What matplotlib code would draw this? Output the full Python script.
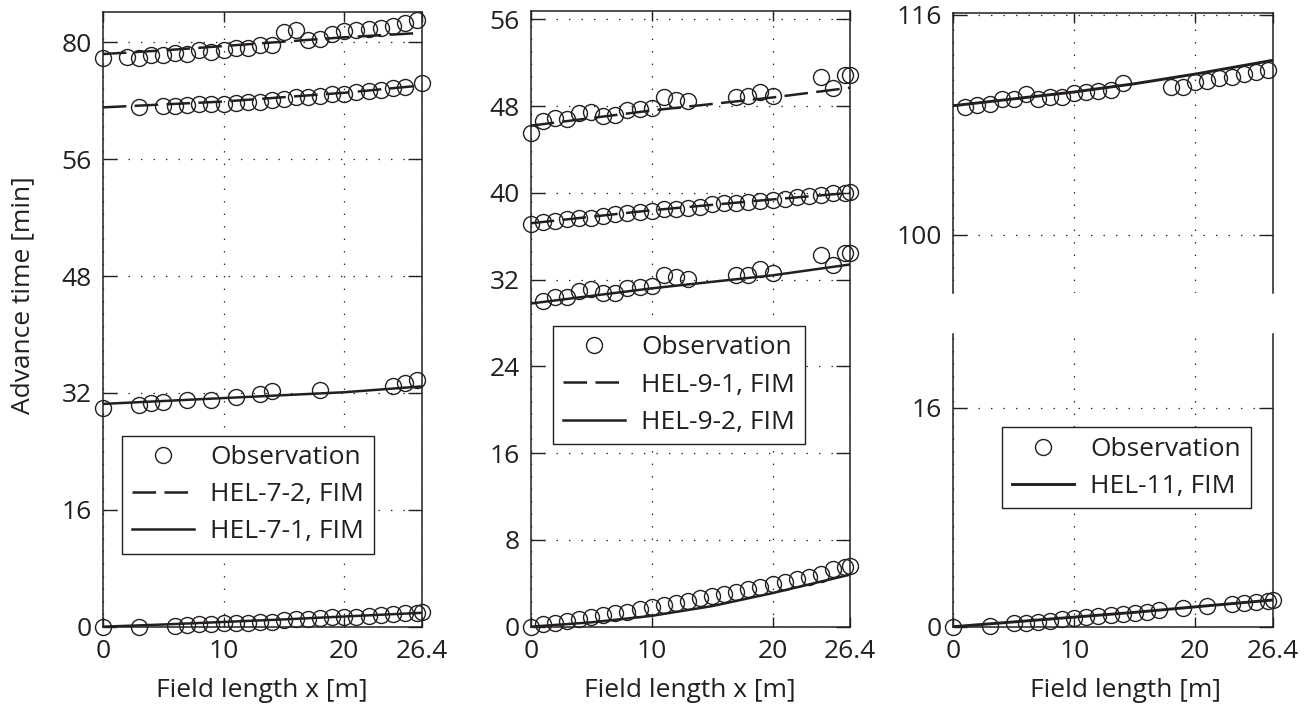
import matplotlib
matplotlib.use("Agg")
import matplotlib.pyplot as plt
import numpy as np

# ---- data ----
x_model = [0, 5, 10, 15, 20, 26.4]

# HEL-7 (left)
obs7_2a_x = [0, 2, 3, 4, 5, 6, 7, 8, 9, 10, 11, 12, 13, 14, 15, 16, 17, 18, 19, 20, 21, 22, 23, 24, 25, 26]
obs7_2a_y = [77.8, 78.0, 77.9, 78.25, 78.3, 78.6, 78.4, 78.9, 78.7, 79.0, 79.2, 79.2, 79.6, 79.6, 81.4, 81.7,
             80.3, 80.4, 81.2, 81.6, 81.7, 81.8, 82.0, 82.2, 82.7, 83.0]
obs7_2b_x = [3, 5, 6, 7, 8, 9, 10, 11, 12, 13, 14, 15, 16, 17, 18, 19, 20, 21, 22, 23, 24, 25, 26.4]
obs7_2b_y = [71.1, 71.3, 71.3, 71.4, 71.5, 71.5, 71.6, 71.7, 71.9, 71.9, 72.1, 72.2, 72.5, 72.5, 72.6, 72.9,
             73.0, 73.2, 73.4, 73.5, 73.7, 73.9, 74.5]
obs7_1a_x = [0, 3, 4, 5, 7, 9, 11, 13, 14, 18, 24, 25, 26]
obs7_1a_y = [30.0, 30.35, 30.6, 30.7, 31.0, 31.1, 31.5, 31.85, 32.3, 32.4, 33.0, 33.4, 33.8]
obs7_1b_x = [0, 3, 6, 7, 8, 9, 10, 11, 12, 13, 14, 15, 16, 17, 18, 19, 20, 21, 22, 23, 24, 25, 26, 26.4]
obs7_1b_y = [0, 0, 0.14, 0.23, 0.32, 0.37, 0.46, 0.46, 0.55, 0.68, 0.68, 0.92, 1.0, 1.05, 1.14, 1.28, 1.37,
             1.37, 1.51, 1.6, 1.74, 1.83, 1.92, 2.0]
fim7_2a = [78.4, 78.9, 79.5, 80.1, 80.7, 81.3]
fim7_2b = [71.1, 71.5, 71.9, 72.5, 73.1, 74.1]
fim7_1a = [30.5, 30.9, 31.3, 31.7, 32.1, 32.9]
fim7_1b = [0, 0.3, 0.65, 1.0, 1.4, 1.9]

# HEL-9 (middle)
obs9_1a_x = [0, 1, 2, 3, 4, 5, 6, 7, 8, 9, 10, 11, 12, 13, 17, 18, 19, 20, 24, 25, 26, 26.4]
obs9_1a_y = [45.5, 46.65, 46.9, 46.85, 47.4, 47.5, 47.1, 47.2, 47.6, 47.7, 47.8, 48.8, 48.6, 48.5, 48.8, 48.9,
             49.3, 48.9, 50.7, 49.7, 50.9, 50.9]
obs9_1b_x = list(range(27)) + [26.4]
obs9_1b_y = [37.1, 37.33, 37.43, 37.55, 37.64, 37.73, 37.85, 38.03, 38.16, 38.25, 38.34, 38.47, 38.56, 38.65,
             38.7, 38.95, 39.07, 39.07, 39.17, 39.26, 39.39, 39.48, 39.63, 39.7, 39.79, 39.95, 40.0, 40.1]
obs9_2a_x = [1, 2, 3, 4, 5, 6, 7, 8, 9, 10, 11, 12, 13, 17, 18, 19, 20, 24, 25, 26, 26.4]
obs9_2a_y = [30.05, 30.36, 30.42, 30.97, 31.1, 30.73, 30.79, 31.19, 31.28, 31.4, 32.41, 32.26, 32.02, 32.41,
             32.41, 32.94, 32.57, 34.26, 33.34, 34.47, 34.47]
obs9_2b_x = list(range(27)) + [26.4]
obs9_2b_y = [0, 0.25, 0.37, 0.55, 0.68, 0.87, 1.08, 1.23, 1.38, 1.6, 1.84, 2.0, 2.21, 2.4, 2.62, 2.83, 3.01,
             3.23, 3.45, 3.69, 3.94, 4.15, 4.37, 4.61, 4.86, 5.29, 5.47, 5.6]
fim9_1a = [46.2, 46.9, 47.6, 48.2, 48.8, 49.7]
fim9_1b = [37.2, 37.8, 38.4, 38.9, 39.4, 40.0]
fim9_2a = [29.8, 30.5, 31.2, 31.8, 32.4, 33.4]
fim9_2b = [0, 0.4, 1.0, 1.9, 3.1, 4.8]

# HEL-11 (right)
obs11a_x = [1, 2, 3, 4, 5, 6, 7, 8, 9, 10, 11, 12, 13, 14, 18, 19, 20, 21, 22, 23, 24, 25, 26]
obs11a_y = [109.33, 109.45, 109.53, 109.87, 109.87, 110.25, 109.87, 110.06, 110.01, 110.35, 110.42, 110.49,
            110.55, 111.08, 110.74, 110.74, 111.15, 111.22, 111.4, 111.51, 111.71, 111.88, 112.0]
obs11b_x = [0, 3, 5, 6, 7, 8, 9, 10, 11, 12, 13, 14, 15, 16, 17, 19, 21, 23, 24, 25, 26, 26.4]
obs11b_y = [0, 0.07, 0.24, 0.29, 0.37, 0.44, 0.54, 0.61, 0.69, 0.78, 0.85, 0.93, 0.98, 1.1, 1.22, 1.34,
            1.51, 1.66, 1.71, 1.83, 1.9, 1.95]
fim11a = [109.4, 109.9, 110.4, 111.0, 111.7, 112.7]
fim11b = [0, 0.35, 0.7, 1.05, 1.45, 1.95]

x_ticks = [0, 10, 20, 26.4]
x_ticklabels = ["0", "10", "20", "26.4"]

# ---- style ----
ink = "#231f20"
fs = 19
plt.rcParams["font.family"] = ["Open Sans", "DejaVu Sans"]
plt.rcParams["font.size"] = fs
plt.rcParams["text.color"] = ink
plt.rcParams["axes.edgecolor"] = ink
plt.rcParams["xtick.color"] = ink
plt.rcParams["ytick.color"] = ink
plt.rcParams["lines.scale_dashes"] = False

W, H = 1313, 711
fig = plt.figure(figsize=(W / 100, H / 100), dpi=100)


def box(x0, y0, x1, y1):
    # pixel box (top-left origin) -> figure fraction rect
    return [x0 / W, 1 - y1 / H, (x1 - x0) / W, (y1 - y0) / H]


obs_kw = dict(marker="o", ls="none", mfc="none", mec=ink, ms=11.5, mew=1.0, clip_on=False, zorder=4)
dash_kw = dict(color=ink, lw=1.8, dashes=(17, 6), zorder=3)
solid_kw = dict(color=ink, lw=1.8, zorder=3)


def style(ax, xlabels=True):
    ax.set_xlim(0, 26.4)
    ax.set_xticks(x_ticks)
    if xlabels:
        ax.set_xticklabels(x_ticklabels)
    else:
        ax.set_xticklabels([])
    ax.grid(True, color=ink, lw=0.9, linestyle=(0, (1, 8)))
    ax.tick_params(axis="y", direction="in", length=10, width=1, left=True, right=True, pad=8, labelsize=fs)
    ax.tick_params(axis="x", direction="in", length=7, width=1, top=True, bottom=True, pad=9, labelsize=fs)
    for s in ax.spines.values():
        s.set_linewidth(1.1)


def legend(ax, x0, y0):
    leg = ax.legend(loc="upper left", bbox_to_anchor=(x0 / W, 1 - y0 / H), bbox_transform=fig.transFigure,
                    borderaxespad=0, fancybox=False, framealpha=1, edgecolor=ink, fontsize=fs,
                    handlelength=2.35, handletextpad=0.63, borderpad=0.36, labelspacing=0.46, numpoints=1)
    leg.get_frame().set_linewidth(1.0)


# left panel
ax1 = fig.add_axes(box(102.7, 11.7, 421.7, 626.7))
ax1.plot(obs7_2a_x, obs7_2a_y, label="Observation", **obs_kw)
ax1.plot(obs7_2b_x, obs7_2b_y, **obs_kw)
ax1.plot(obs7_1a_x, obs7_1a_y, **obs_kw)
ax1.plot(obs7_1b_x, obs7_1b_y, **obs_kw)
ax1.plot(x_model, fim7_2a, label="HEL-7-2, FIM", **dash_kw)
ax1.plot(x_model, fim7_2b, **dash_kw)
ax1.plot(x_model, fim7_1a, label="HEL-7-1, FIM", **solid_kw)
ax1.plot(x_model, fim7_1b, **solid_kw)
ax1.set_ylim(0, 84.2)
ax1.set_yticks([0, 16, 32, 48, 64, 80])
ax1.set_yticklabels(["0", "16", "32", "48", "56", "80"])
style(ax1)
legend(ax1, 122, 435.7)

# middle panel
ax2 = fig.add_axes(box(530.7, 10.7, 850, 626.7))
ax2.plot(obs9_1a_x, obs9_1a_y, label="Observation", **obs_kw)
ax2.plot(obs9_1b_x, obs9_1b_y, **obs_kw)
ax2.plot(obs9_2a_x, obs9_2a_y, **obs_kw)
ax2.plot(obs9_2b_x, obs9_2b_y, **obs_kw)
ax2.plot(x_model, fim9_1a, label="HEL-9-1, FIM", **dash_kw)
ax2.plot(x_model, fim9_1b, **dash_kw)
ax2.plot(x_model, fim9_2a, label="HEL-9-2, FIM", **solid_kw)
ax2.plot(x_model, fim9_2b, **solid_kw)
ax2.set_ylim(0, 56.8)
ax2.set_yticks(np.arange(0, 57, 8))
style(ax2)
legend(ax2, 553.3, 326)

# right panel, broken axis
ax3 = fig.add_axes(box(953.3, 13.3, 1272.7, 292.7))
ax3.plot(obs11a_x, obs11a_y, **obs_kw)
ax3.plot(x_model, fim11a, color=ink, lw=2.1, zorder=3)
ax3.set_ylim(95.8, 116.12)
ax3.set_yticks([100, 116])
style(ax3, xlabels=False)
ax3.spines["bottom"].set_visible(False)
ax3.tick_params(axis="x", bottom=False)

ax4 = fig.add_axes(box(953.3, 334, 1272.7, 626.7))
ax4.plot(obs11b_x, obs11b_y, label="Observation", **obs_kw)
ax4.plot(x_model, fim11b, label="HEL-11, FIM", color=ink, lw=2.1, zorder=3)
ax4.set_ylim(0, 21.38)
ax4.set_yticks([0, 16])
style(ax4)
ax4.spines["top"].set_visible(False)
ax4.tick_params(axis="x", top=False)
legend(ax4, 1002.3, 427.3)

# axis titles
fig.text(23 / W, 1 - 295 / H, "Advance time [min]", rotation=90, ha="center", va="center", fontsize=fs)
fig.text(262 / W, 1 - 697 / H, "Field length x [m]", ha="center", va="baseline", fontsize=fs)
fig.text(690 / W, 1 - 697 / H, "Field length x [m]", ha="center", va="baseline", fontsize=fs)
fig.text(1126 / W, 1 - 697 / H, "Field length [m]", ha="center", va="baseline", fontsize=fs)

fig.savefig("out.png", dpi=100)
